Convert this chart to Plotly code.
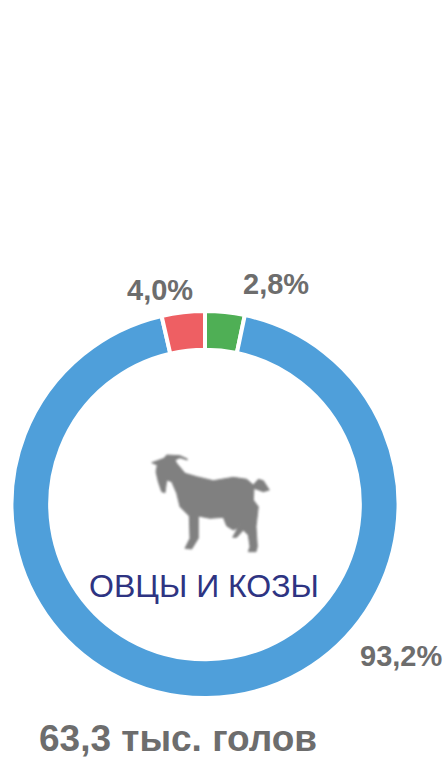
import plotly.graph_objects as go

categories = ["Зелёный", "Синий", "Красный"]
# slice sizes as drawn in the picture (measured from the arc angles)
values = [3.3, 93.1, 3.6]
value_labels = ["2,8%", "93,2%", "4,0%"]
title_text = "ОВЦЫ И КОЗЫ"
total_text = "63,3 тыс. голов"
colors = ["#4FAF55", "#4F9FDA", "#EE5F63"]

W, H = 444, 759
font = "Liberation Sans"

goat_zoom = [(172,57),(150,47),(110,45),(102,55),(65,68),(82,75),(78,95),(85,125),(95,155),(105,158),
 (110,120),(125,125),(140,160),(150,200),(178,228),(180,295),(165,325),(185,327),(205,295),(205,228),
 (240,235),(280,232),(290,258),(310,270),(325,262),(330,245),(320,270),(308,292),(320,292),(340,270),
 (355,285),(360,320),(355,335),(378,335),(382,320),(378,260),(385,200),(370,180),(372,145),(400,155),
 (418,150),(400,122),(385,118),(370,135),(350,118),(310,112),(250,122),(200,110),(165,100),(140,70),
 (135,60),(150,53),(172,60)]
goat_path = "M " + " L ".join(f"{130+x/3:.1f},{440+y/3:.1f}" for x, y in goat_zoom) + " Z"

fig = go.Figure(go.Pie(
    labels=categories, values=values, sort=False, direction="clockwise", rotation=0,
    hole=0.80, textinfo="none", showlegend=False,
    marker=dict(colors=colors, line=dict(color="white", width=4)),
    domain=dict(x=[11.5/W, 398.5/W], y=[1-698/H, 1-311/H]),
))

def label(x, y, text, size, color, bold=True):
    fig.add_annotation(x=x, y=y, text=f"<b>{text}</b>" if bold else text, showarrow=False,
                       font=dict(family=font, size=size, color=color), xanchor="center", yanchor="middle")

grey = "#6D6D6D"
label(276, 284, value_labels[0], 29, grey)
label(400.5, 656, value_labels[1], 29, grey)
label(160, 290, value_labels[2], 29, grey)
label(204, 586, title_text, 32, "#2E3482", bold=False)
label(177.5, 738.5, total_text, 37, grey)

fig.add_shape(type="path", path=goat_path, xref="x", yref="y",
              fillcolor="#808080", line=dict(color="#808080", width=1))

fig.update_layout(
    width=W, height=H, margin=dict(l=0, r=0, t=0, b=0), paper_bgcolor="white", plot_bgcolor="rgba(0,0,0,0)",
    xaxis=dict(range=[0, W], visible=False, domain=[0, 1], fixedrange=True),
    yaxis=dict(range=[H, 0], visible=False, domain=[0, 1], fixedrange=True),
)
fig.write_html("out.html", config=dict(displayModeBar=False),
               post_script="document.body.style.margin='0';document.documentElement.style.overflow='hidden';"
                           "document.querySelectorAll('.shapelayer path').forEach(p=>p.style.filter='blur(0.8px)');")
